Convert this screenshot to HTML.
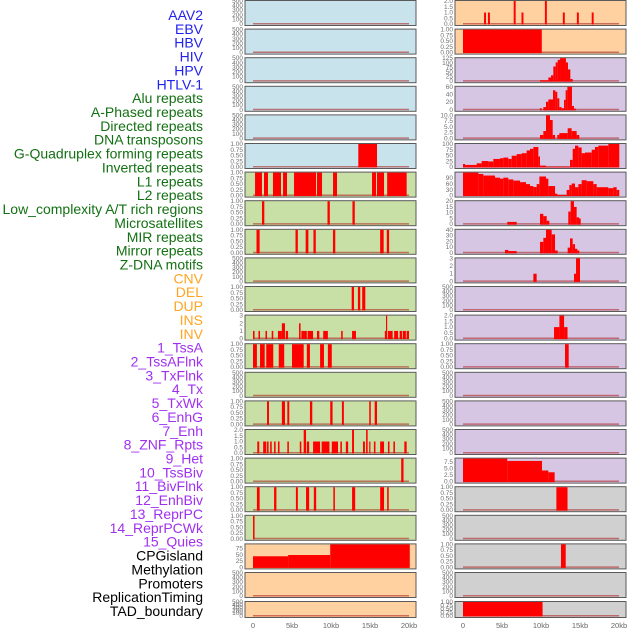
<!DOCTYPE html>
<html><head><meta charset="utf-8"><style>
html,body{margin:0;padding:0;background:#fff;}
svg{display:block;font-family:"Liberation Sans",sans-serif;}
</style></head><body>
<svg id="chart" width="630" height="630" viewBox="0 0 630 630" xmlns="http://www.w3.org/2000/svg"></svg>
<script>
// ---- data ----
const trackLabels=["AAV2","EBV","HBV","HIV","HPV","HTLV-1","Alu repeats","A-Phased repeats","Directed repeats","DNA transposons","G-Quadruplex forming repeats","Inverted repeats","L1 repeats","L2 repeats","Low_complexity A/T rich regions","Microsatellites","MIR repeats","Mirror repeats","Z-DNA motifs","CNV","DEL","DUP","INS","INV","1_TssA","2_TssAFlnk","3_TxFlnk","4_Tx","5_TxWk","6_EnhG","7_Enh","8_ZNF_Rpts","9_Het","10_TssBiv","11_BivFlnk","12_EnhBiv","13_ReprPC","14_ReprPCWk","15_Quies","CPGisland","Methylation","Promoters","ReplicationTiming","TAD_boundary"];
const labelGroups=[6,13,5,15,5]; // counts per colour group
const groupColors=["#2222ee","#137013","#ffa522","#a030f0","#000000"];
const xTicks=[0,5,10,15,20];
const xTickLabels=["0","5kb","10kb","15kb","20kb"];
const E=["0","100","200","300","400","500"];
const T1=["0.00","0.25","0.50","0.75","1.00"];
const T2=["0.0","0.5","1.0","1.5","2.0"];
const leftBg=["b","b","b","b","b","b","g","g","g","g","g","g","g","g","g","g","g","g","g","p","p","p"];
const rightBg=["p","p","u","u","u","u","u","u","u","u","u","u","u","u","u","u","u","y","y","y","y","y"];
const leftYMax=[500,500,500,500,500,1,1,1,1,500,1,3,1,500,1,2,1,1,1,91,500,500];
const leftTicks=[E,E,E,E,E,T1,T1,T1,T1,E,T1,["0","1","2","3"],T1,E,T1,T2,T1,T1,T1,["0","25","50","75"],E,E];
const leftBars=[
 [],[],[],[],[],
 [[13.5,15.9,1]],
 [[0.26,1.15,1],[1.41,1.92,1],[2.56,3.59,1],[3.85,4.36,1],[5.26,8.08,1],[8.21,8.85,1],[10.26,10.77,1],[15.26,15.77,1],[15.9,16.8,1],[17.2,19.7,1]],
 [[1.15,1.45,1],[9.55,9.85,1],[12.75,13.05,1]],
 [[0.45,0.85,1],[5.45,5.75,1],[6.75,7.1,1],[7.75,8.05,1],[10.25,10.55,1],[16.3,16.75,1],[17.15,17.45,1]],
 [],
 [[12.65,12.95,1],[13.45,13.75,1],[14.0,14.4,1]],
 [[0,0.2,1],[0.7,0.9,1],[1.6,1.8,1],[2.4,2.6,1],[3.2,3.7,1],[3.7,4.1,2],[4.2,4.5,1],[5.9,6.1,2],[6.2,6.9,1],[7.0,7.7,1],[8.2,8.5,1],[9.0,9.6,1],[11.3,11.5,1],[12.7,13.2,1],[16.9,17.05,1],[17.05,17.2,3],[17.3,17.9,1],[18.1,18.6,1],[18.8,19.1,1],[19.2,19.6,1],[19.7,20.0,1]],
 [[0,0.5,1],[0.9,1.5,1],[1.7,2.6,1],[3.3,4.0,1],[5.0,6.5,1],[6.9,7.3,1],[8.6,9.1,1],[9.6,10.1,1]],
 [],
 [[1.8,2.05,1],[3.7,4.1,1],[4.4,4.65,1],[7.3,7.6,1],[9.9,10.2,1],[11.4,11.65,1],[14.9,15.1,1],[15.6,15.9,1]],
 [[0.55,0.8,1],[1.3,1.7,1],[1.8,2.0,1],[2.2,2.4,1],[2.7,2.9,1],[3.2,3.4,1],[4.4,4.6,1],[6.0,6.2,1],[6.5,6.8,2],[6.9,7.2,1],[7.7,8.6,1],[8.8,9.8,1],[10.1,10.9,1],[11.2,11.4,1],[11.9,12.2,1],[12.7,12.95,2],[14.1,14.35,1],[14.5,14.7,2],[14.9,15.05,1],[15.5,15.7,1],[16.3,16.8,1],[17.3,17.5,1],[18.0,18.2,1],[19.4,19.7,1]],
 [[19.0,19.3,1]],
 [[0.5,0.85,1],[2.7,3.0,1],[5.5,5.75,1],[6.8,7.2,1],[7.8,8.1,1],[10.3,10.5,1],[12.7,13.1,1],[16.3,16.8,1],[17.2,17.4,1]],
 [[0,0.2,1]],
 [[0,4.5,44],[4.5,9.9,49],[9.9,20.1,91]],
 [],[]
];
const rightYMax=[2,1,125,60,10,100,118,20,40,3,500,2,1,500,500,500,8.9,1,500,1,500,1];
const rightTicks=[T2,T1,["0","25","50","75","100","125"],["0","20","40","60"],["0.0","2.5","5.0","7.5","10.0"],["0","25","50","75","100"],["0","30","60","90"],["0","5","10","15","20"],["0","10","20","30","40"],["0","1","2","3"],E,T2,T1,E,E,E,["0.0","2.5","5.0","7.5"],T1,E,T1,E,T1];
const rightBars=[
 [[2.7,2.95,1],[3.2,3.45,1],[6.5,6.75,2],[7.5,7.75,1],[10.5,10.75,2],[12.8,13.05,1],[14.6,14.85,1],[16.5,16.75,1]],
 [[0,10.1,1]],
 [[9.87,10.94,5],[10.94,11.28,20],[11.28,11.58,32],[11.58,11.88,80],[11.88,12.14,102],[12.14,12.44,116],[12.44,13.2,125],[13.2,13.46,102],[13.46,13.76,64],[13.76,14.06,12]],
 [[9.87,10.09,4],[10.3,10.64,7],[10.64,10.94,21],[10.94,11.54,27],[11.54,11.84,51],[11.84,12.09,47],[12.09,12.35,30],[12.35,12.65,7],[12.65,12.95,4],[12.95,13.16,26],[13.16,13.38,51],[13.38,13.97,60],[13.97,14.23,10],[14.23,14.49,3]],
 [[9.87,10.3,1.5],[10.3,10.64,3.2],[10.64,11.15,10],[11.15,11.5,8],[11.5,11.8,1.5],[12.09,12.35,1.5],[12.35,13.42,2.3],[13.42,13.93,4.4],[13.93,14.57,3.2],[14.57,14.91,1.5]],
 [[0,0.26,13],[0.26,1.75,9],[1.75,2.39,16],[2.39,3.25,26],[3.25,3.89,24],[3.89,4.74,35],[4.74,5.17,38],[5.17,5.81,41],[5.81,6.24,35],[6.24,6.88,49],[6.88,7.52,56],[7.52,8.16,60],[8.16,8.59,72],[8.59,9.02,79],[9.02,9.66,87],[9.66,9.87,46],[9.87,10.64,6],[10.64,13.72,1],[13.72,14.06,31],[14.06,14.36,79],[14.36,14.79,93],[14.79,15.21,85],[15.21,15.64,60],[15.64,16.5,63],[16.5,16.92,75],[16.92,17.35,87],[17.35,18.63,93],[18.63,20.04,100]],
 [[0,1.97,118],[1.97,2.61,111],[2.61,4.1,103],[4.1,4.74,92],[4.74,5.17,87],[5.17,5.81,92],[5.81,6.45,83],[6.45,7.31,77],[7.31,8.08,69],[8.08,8.59,59],[8.59,9.02,49],[9.02,9.44,44],[9.44,9.79,59],[9.79,10.64,98],[10.64,10.94,87],[10.94,11.8,49],[11.8,12.09,10],[12.09,13.29,3],[13.29,13.63,29],[13.63,13.93,54],[13.93,14.36,62],[14.36,14.79,43],[14.79,15.21,59],[15.21,15.85,79],[15.85,16.71,74],[16.71,17.14,59],[17.14,18.63,43],[18.63,19.27,38],[19.27,19.7,43],[19.7,20.04,29]],
 [[5.68,6.88,2],[9.87,10.3,9],[10.3,10.73,7],[10.73,11.07,3],[13.5,13.8,11],[13.8,14.23,21],[14.23,14.57,15],[14.57,14.87,6],[14.87,15.09,5]],
 [[5.38,5.81,5],[5.81,6.88,3],[9.87,10.3,19],[10.3,10.64,26],[10.64,11.37,40],[11.37,11.8,32],[11.8,12.14,4],[13.42,13.72,9],[13.72,14.06,25],[14.06,14.36,15],[14.36,14.66,7],[14.66,14.91,4]],
 [[9.02,9.44,1],[14.23,14.49,1],[14.49,15.0,3]],
 [],
 [[11.67,12.36,1],[12.36,12.96,2],[12.96,13.4,1]],
 [[13.08,13.55,1]],
 [],[],[],
 [[0,5.68,8.9],[5.68,10.13,8],[10.13,10.94,4.3],[10.94,11.75,3.6]],
 [[11.97,13.4,1]],
 [],
 [[12.56,13.17,1]],
 [],
 [[0,10.2,1]]
];
// ---- layout ----
const NS="http://www.w3.org/2000/svg";
const svg=document.getElementById("chart");
const bgColors={b:"#c8e3eb",g:"#c8e0a5",p:"#ffd1a0",u:"#d6c6e3",y:"#d0d0d0"};
function mk(tag,attrs,parent){const e=document.createElementNS(NS,tag);for(const k in attrs)e.setAttribute(k,attrs[k]);(parent||svg).appendChild(e);return e;}
function rowTop(i){return i===21?601:i*28.6;}
function rowH(i){return i===21?16:25;}
// labels
let idx=0;
labelGroups.forEach((n,g)=>{for(let j=0;j<n;j++){const t=mk("text",{x:203,y:15+idx*13.86,"text-anchor":"end","dominant-baseline":"central","font-size":"14",fill:groupColors[g]});


t.textContent=trackLabels[idx];idx++;}});
function drawColumn(left,right,x0px,bgs,ymaxs,ticks,bars,side){
 const xs=v=>x0px+v*7.8;
 for(let i=0;i<22;i++){
  const top=rowTop(i),h=rowH(i);
  const g=mk("g",{});
  
  
  const r=mk("rect",{x:left,y:top+0.5,width:right-left,height:h,fill:bgColors[bgs[i]],stroke:"#5a5a5a","stroke-width":"1"},g);
  
  
  const yb=top+h-1,yt=top+1;
  const ys=v=>yb-(v/ymaxs[i])*(yb-yt);
  ticks[i].forEach(lbl=>{const t=mk("text",{x:left-2,y:ys(parseFloat(lbl))+2,"text-anchor":"end","font-size":"6.5",fill:"#707070"},g);
   
   
   t.textContent=lbl;});
  const bl=mk("line",{x1:xs(0),x2:xs(20),y1:yb-0.3,y2:yb-0.3,stroke:"rgba(175,40,40,0.6)","stroke-width":"1.5"},g);
  
  
  bars[i].forEach(b=>{const v=Math.min(b[2],ymaxs[i]);const y=ys(v);
   const br=mk("rect",{x:xs(b[0]),y:y,width:Math.max(1.2,xs(b[1])-xs(b[0])),height:yb-y+0.5,fill:"#ff0000"},g);
   
   });
 }
 xTicks.forEach((v,k)=>{const t=mk("text",{x:xs(v),y:628,"text-anchor":"middle","font-size":"7.5",fill:"#666"});
  
  
  t.textContent=xTickLabels[k];});
}
drawColumn(245,416,253,leftBg,leftYMax,leftTicks,leftBars,'left');
drawColumn(455,626,463,rightBg,rightYMax,rightTicks,rightBars,'right');
</script>
</body></html>
